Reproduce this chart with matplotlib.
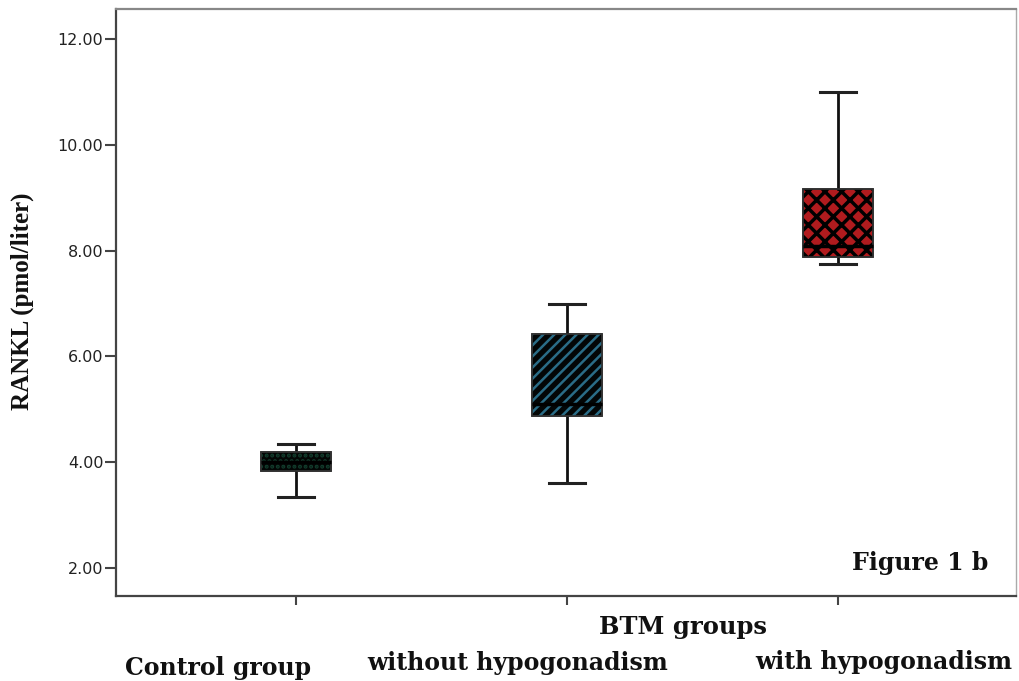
import matplotlib.pyplot as plt
from matplotlib.patches import PathPatch
import numpy as np

# Data (RANKL, pmol/liter)
groups = ['Control group', 'without hypogonadism', 'with hypogonadism']
whislo = [3.34, 3.61, 7.75]
q1 = [3.83, 4.87, 7.88]
med = [4.00, 5.10, 8.09]
q3 = [4.19, 6.42, 9.16]
whishi = [4.34, 7.00, 11.00]
yticks = [2, 4, 6, 8, 10, 12]

face_colors = ['#030605', '#030606', '#b01b1e']
hatch_colors = ['#123d2d', '#2a6c86', '#000000']
hatches = ['...', '///', 'xx']
hatch_widths = [2.0, 1.8, 2.5]

plt.rcParams['hatch.linewidth'] = 2.0

stats = []
for i in range(len(groups)):
    stats.append({'label': groups[i], 'whislo': whislo[i], 'q1': q1[i], 'med': med[i],
                  'q3': q3[i], 'whishi': whishi[i], 'fliers': []})

fig = plt.figure(figsize=(10.19, 6.81), dpi=100)
ax = fig.add_axes([0.1138, 0.1248, 0.8832, 0.862])

pos = np.arange(1, len(groups) + 1)
bp = ax.bxp(stats, positions=pos, widths=0.26, patch_artist=True, showfliers=False,
            boxprops=dict(linewidth=1.2, edgecolor='#222222'),
            whiskerprops=dict(linewidth=2, color='#111111'),
            capprops=dict(linewidth=2.2, color='#222222'),
            medianprops=dict(linewidth=2.5, color='black'),
            capwidths=0.13)

# face colour first, then a hatch layer on top with its own colour
for box, fc, hc, h, hw in zip(bp['boxes'], face_colors, hatch_colors, hatches, hatch_widths):
    box.set_facecolor(fc)
    hp = PathPatch(box.get_path(), facecolor='none', edgecolor=hc, hatch=h,
                   linewidth=0, transform=box.get_transform(), zorder=box.get_zorder() + 0.1)
    if hasattr(hp, 'set_hatch_linewidth'):
        hp.set_hatch_linewidth(hw)
    ax.add_patch(hp)
    outline = PathPatch(box.get_path(), facecolor='none', edgecolor='#333333',
                        linewidth=1.2, transform=box.get_transform(), zorder=box.get_zorder() + 0.2)
    ax.add_patch(outline)
for m in bp['medians']:
    m.set_zorder(5)

ax.set_xlim(0.336, 3.657)
ax.set_ylim(1.47, 12.57)
ax.set_yticks(yticks)
ax.set_yticklabels(['%.2f' % v for v in yticks], fontsize=11.5, family='DejaVu Sans', color='#222222')
ax.set_xticks(pos)
ax.set_xticklabels([])
ax.tick_params(axis='y', length=8, width=1.5, color='#444444', pad=1)
ax.tick_params(axis='x', length=6.5, width=1.5, color='#444444')
for s in ['left', 'bottom']:
    ax.spines[s].set_color('#444444')
    ax.spines[s].set_linewidth(1.6)
ax.spines['top'].set_color('#888888')
ax.spines['top'].set_linewidth(1.6)
ax.spines['right'].set_color('#aaaaaa')
ax.spines['right'].set_linewidth(1.0)

serif = 'DejaVu Serif'
fig.text(22 / 1019, 1 - 301 / 681, 'RANKL (pmol/liter)', rotation=90, ha='center', va='center',
         fontsize=18, family='Liberation Serif', fontweight='bold', color='#111111')
ax.text(0.969, 0.056, 'Figure 1 b', transform=ax.transAxes, ha='right', va='center',
        fontsize=17, family=serif, fontweight='bold', color='#111111')
fig.text(683 / 1019, 1 - 627 / 681, 'BTM groups', ha='center', va='center',
         fontsize=17.5, family=serif, fontweight='bold', color='#111111')
label_x = [218, 518, 884]
label_y = [668, 663, 662]
for name, lx, ly in zip(groups, label_x, label_y):
    fig.text(lx / 1019, 1 - ly / 681, name, ha='center', va='center',
             fontsize=17, family=serif, fontweight='bold', color='#111111')

plt.savefig('out.png', dpi=100)
